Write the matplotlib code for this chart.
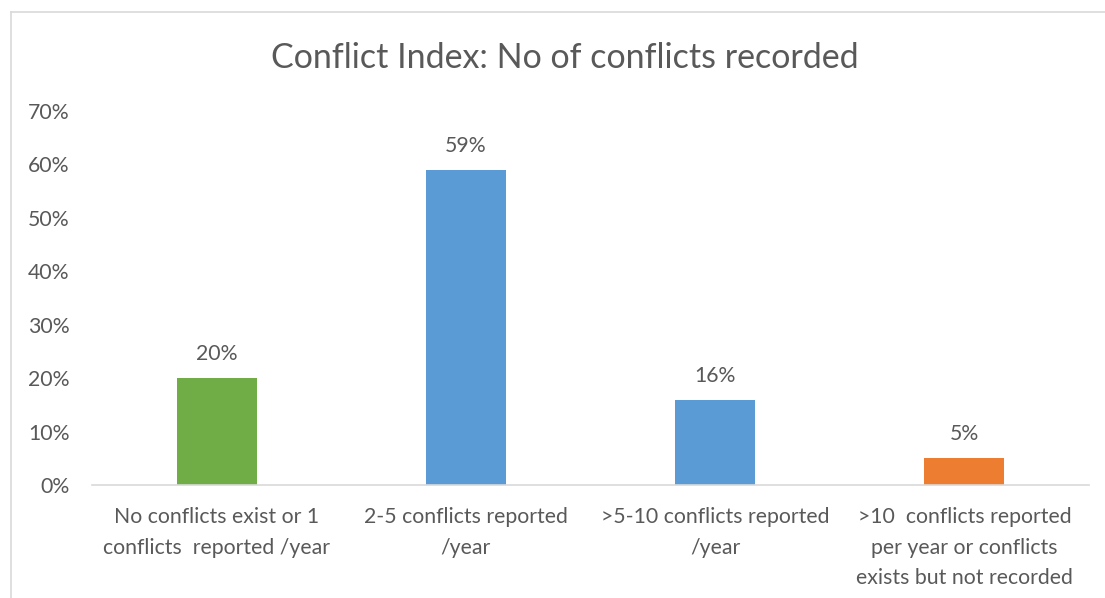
import matplotlib
matplotlib.use("Agg")
import matplotlib.pyplot as plt
from matplotlib.lines import Line2D

categories = [
    "No conflicts exist or 1\nconflicts  reported /year",
    "2-5 conflicts reported\n/year",
    ">5-10 conflicts reported\n/year",
    ">10  conflicts reported\nper year or conflicts\nexists but not recorded",
]
values = [20, 59, 16, 5]
labels = ["20%", "59%", "16%", "5%"]
colors = ["#70AD47", "#5B9BD5", "#5B9BD5", "#ED7D31"]
yticks = [0, 10, 20, 30, 40, 50, 60, 70]

W, H = 1105, 598
fig = plt.figure(figsize=(W / 100, H / 100), dpi=100)
plt.rcParams['font.family'] = ['Lato', 'DejaVu Sans']
txt = "#595959"
fs = 15.3

ax = fig.add_axes([92 / W, 1 - 485 / H, (1089 - 92) / W, (485 - 111) / H])
x = list(range(len(categories)))
ax.bar(x, values, width=0.32, color=colors)
ax.set_xlim(-0.5, 3.5)
ax.set_ylim(0, 70)
ax.set_yticks(yticks)
ax.set_yticklabels([f"{v}%" for v in yticks], fontsize=fs, color=txt)
ax.set_xticks(x)
ax.set_xticklabels(categories, fontsize=fs, color=txt, linespacing=1.65, va="top")
ax.tick_params(axis="both", length=0)
ax.tick_params(axis="y", pad=16)
ax.tick_params(axis="x", pad=16)
for s in ["top", "right", "left"]:
    ax.spines[s].set_visible(False)
ax.spines["bottom"].set_color("#D9D9D9")
ax.spines["bottom"].set_linewidth(1.2)

for xi, v, lab in zip(x, values, labels):
    ax.annotate(lab, (xi, v), xytext=(0, 10), textcoords="offset points",
                ha="center", va="bottom", fontsize=fs, color=txt)

fig.text(565 / W, 1 - 58 / H, "Conflict Index: No of conflicts recorded",
         ha="center", va="center", fontsize=24.5, color=txt)

# chart border
fig.add_artist(Line2D([11 / W, 11 / W], [0, 1 - 12 / H], color="#D9D9D9", lw=1.2, transform=fig.transFigure))
fig.add_artist(Line2D([11 / W, 1], [1 - 12 / H, 1 - 12 / H], color="#D9D9D9", lw=1.2, transform=fig.transFigure))

fig.savefig("out.png", dpi=100)
